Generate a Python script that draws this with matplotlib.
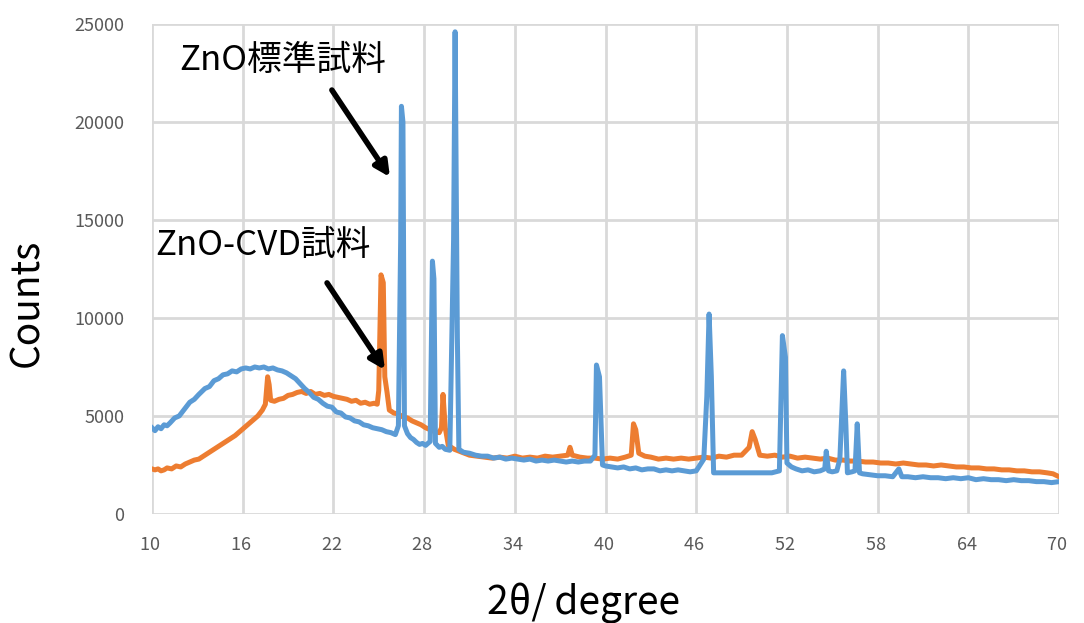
import matplotlib
matplotlib.use("Agg")
import matplotlib.pyplot as plt

plt.rcParams['font.family'] = ['Noto Sans CJK JP', 'DejaVu Sans']

# ZnO standard sample (blue)
std_x = [10.0, 10.2, 10.4, 10.6, 10.8, 11.0, 11.2, 11.5, 11.8, 12.1, 12.5, 12.8, 13.1, 13.5,
         13.8, 14.1, 14.4, 14.7, 15.0, 15.3, 15.6, 15.9, 16.2, 16.5, 16.8, 17.1, 17.4, 17.7,
         18.0, 18.3, 18.6, 18.9, 19.2, 19.5, 19.8, 20.1, 20.4, 20.7, 21.0, 21.3, 21.6, 21.9,
         22.2, 22.5, 22.8, 23.1, 23.4, 23.7, 24.0, 24.3, 24.6, 24.9, 25.2, 25.5, 25.8, 26.1,
         26.3, 26.45, 26.5, 26.6, 26.7, 26.9, 27.1, 27.3, 27.5, 27.7, 27.9, 28.1, 28.4, 28.55,
         28.65, 28.75, 29.0, 29.2, 29.4, 29.7, 29.95, 30.05, 30.2, 30.3, 30.6, 31.0, 31.4, 31.8,
         32.2, 32.6, 33.0, 33.4, 33.8, 34.2, 34.6, 35.0, 35.4, 35.8, 36.2, 36.6, 37.0, 37.4,
         37.8, 38.2, 38.6, 39.0, 39.3, 39.4, 39.6, 39.8, 40.0, 40.4, 40.8, 41.2, 41.6, 42.0,
         42.4, 42.8, 43.2, 43.6, 44.0, 44.4, 44.8, 45.2, 45.6, 46.0, 46.5, 46.7, 46.85, 47.0,
         47.15, 48.0, 49.0, 50.0, 51.0, 51.5, 51.7, 51.9, 52.0, 52.3, 52.6, 53.0, 53.4, 53.8,
         54.2, 54.5, 54.6, 54.75, 55.0, 55.3, 55.5, 55.75, 55.9, 56.0, 56.3, 56.5, 56.65, 56.8,
         57.0, 57.5, 58.0, 58.5, 59.0, 59.4, 59.6, 60.0, 60.5, 61.0, 61.5, 62.0, 62.5, 63.0,
         63.5, 64.0, 64.5, 65.0, 65.5, 66.0, 66.5, 67.0, 67.5, 68.0, 68.5, 69.0, 69.5, 70.0]
std_y = [4400, 4250, 4450, 4350, 4550, 4500, 4650, 4900, 5000, 5300, 5700, 5850, 6100, 6400,
         6500, 6800, 6900, 7100, 7150, 7300, 7250, 7400, 7450, 7400, 7500, 7450, 7500, 7400,
         7450, 7350, 7300, 7200, 7050, 6900, 6650, 6400, 6200, 5950, 5850, 5650, 5500, 5450,
         5200, 5150, 4950, 4900, 4750, 4700, 4550, 4500, 4400, 4350, 4300, 4200, 4150, 4050,
         4500, 14000, 20800, 20000, 4500, 4100, 3900, 3800, 3650, 3550, 3600, 3500, 3700, 12900,
         12000, 3600, 3400, 3450, 3300, 3250, 14000, 24600, 9000, 3300, 3150, 3100, 3000, 2950,
         2950, 2850, 2900, 2800, 2850, 2800, 2750, 2800, 2700, 2750, 2700, 2750, 2700, 2650,
         2700, 2650, 2700, 2700, 3000, 7600, 7000, 2500, 2450, 2400, 2350, 2400, 2300, 2350,
         2250, 2300, 2300, 2200, 2250, 2200, 2250, 2200, 2150, 2200, 2800, 6000, 10200, 7000,
         2100, 2100, 2100, 2100, 2100, 2200, 9100, 8000, 2600, 2400, 2300, 2200, 2250, 2150,
         2200, 2300, 3200, 2200, 2150, 2200, 2800, 7300, 4500, 2100, 2150, 2200, 4600, 2100,
         2050, 2000, 1950, 1950, 1900, 2300, 1900, 1900, 1850, 1900, 1850, 1850, 1800, 1850,
         1800, 1850, 1750, 1800, 1750, 1750, 1700, 1750, 1700, 1700, 1650, 1650, 1600, 1650]

# ZnO-CVD sample (orange)
cvd_x = [10.0, 10.2, 10.4, 10.6, 10.8, 11.0, 11.3, 11.6, 11.9, 12.2, 12.5, 12.8, 13.1, 13.4,
         13.7, 14.0, 14.3, 14.6, 14.9, 15.2, 15.5, 15.8, 16.1, 16.4, 16.7, 17.0, 17.3, 17.5,
         17.65, 17.75, 17.85, 18.1, 18.4, 18.7, 19.0, 19.3, 19.6, 19.9, 20.2, 20.5, 20.8, 21.1,
         21.4, 21.7, 22.0, 22.3, 22.6, 22.9, 23.2, 23.5, 23.8, 24.1, 24.4, 24.7, 24.9, 25.0,
         25.15, 25.3, 25.4, 25.55, 25.7, 26.0, 26.3, 26.6, 26.9, 27.2, 27.5, 27.8, 28.1, 28.4,
         28.7, 29.0, 29.15, 29.25, 29.4, 29.6, 30.0, 30.5, 31.0, 31.5, 32.0, 32.5, 33.0, 33.5,
         34.0, 34.5, 35.0, 35.5, 36.0, 36.5, 37.0, 37.5, 37.65, 37.8, 38.3, 38.8, 39.3, 39.8,
         40.3, 40.8, 41.3, 41.7, 41.85, 42.0, 42.2, 42.6, 43.0, 43.5, 44.0, 44.5, 45.0, 45.5,
         46.0, 46.5, 47.0, 47.5, 48.0, 48.5, 49.0, 49.5, 49.7, 49.9, 50.2, 50.7, 51.2, 51.7,
         52.2, 52.7, 53.2, 53.7, 54.2, 54.7, 55.2, 55.7, 56.2, 56.7, 57.2, 57.7, 58.2, 58.7,
         59.2, 59.7, 60.2, 60.7, 61.2, 61.7, 62.2, 62.7, 63.2, 63.7, 64.2, 64.7, 65.2, 65.7,
         66.2, 66.7, 67.2, 67.7, 68.2, 68.7, 69.2, 69.6, 70.0]
cvd_y = [2300, 2250, 2300, 2200, 2250, 2350, 2300, 2450, 2400, 2550, 2650, 2750, 2800, 2950,
         3100, 3250, 3400, 3550, 3700, 3850, 4000, 4200, 4400, 4600, 4800, 5000, 5300, 5600,
         7000, 6600, 5800, 5750, 5850, 5900, 6050, 6100, 6200, 6250, 6150, 6250, 6100, 6150,
         6050, 6100, 6000, 5950, 5900, 5850, 5750, 5800, 5650, 5700, 5600, 5650, 5600, 6300,
         12200, 11800, 7000, 6200, 5300, 5150, 5100, 4950, 4900, 4750, 4650, 4550, 4400, 4300,
         4200, 4150, 4400, 6100, 4400, 3500, 3300, 3150, 3000, 2950, 2900, 2850, 2900, 2850,
         2950, 2850, 2900, 2850, 2950, 2900, 2950, 3000, 3400, 3000, 2900, 2850, 2850, 2800,
         2850, 2800, 2900, 3000, 4600, 4300, 3100, 2950, 2900, 2800, 2850, 2800, 2850, 2800,
         2850, 2900, 2850, 2950, 2900, 3000, 3000, 3400, 4200, 3800, 3000, 2950, 3000, 2900,
         2950, 2850, 2900, 2850, 2800, 2850, 2750, 2750, 2700, 2700, 2650, 2650, 2600, 2600,
         2550, 2600, 2550, 2500, 2500, 2450, 2500, 2450, 2400, 2400, 2350, 2350, 2300, 2300,
         2250, 2250, 2200, 2200, 2150, 2150, 2100, 2050, 1900]

x_ticks = [10, 16, 22, 28, 34, 40, 46, 52, 58, 64, 70]
y_ticks = [0, 5000, 10000, 15000, 20000, 25000]

fig = plt.figure(figsize=(10.84, 6.23), dpi=100)
ax = fig.add_axes([0.1402, 0.175, 0.8368, 0.7865])

ax.plot(cvd_x, cvd_y, color='#ED7D31', lw=3.6, solid_joinstyle='round')
ax.plot(std_x, std_y, color='#5B9BD5', lw=3.6, solid_joinstyle='round')

ax.set_xlim(10, 70)
ax.set_ylim(0, 25000)
ax.set_xticks(x_ticks)
ax.set_yticks(y_ticks)
ax.set_xticklabels([f"{t}\u2009" for t in x_ticks])
ax.tick_params(length=0, labelsize=13, labelcolor='#595959')
ax.tick_params(axis='x', pad=16)
ax.tick_params(axis='y', pad=20)
ax.grid(True, color='#d9d9d9', lw=2)
ax.set_axisbelow(True)
for s in ax.spines.values():
    s.set_visible(False)

ax.set_ylabel("Counts", fontsize=28, va='center')
ax.yaxis.set_label_coords(-0.138, 0.43)
ax.set_xlabel("2θ/\u2009degree", fontsize=28, va='center')
ax.xaxis.set_label_coords(0.476, -0.182)

ax.text(18.67, 23160, "ZnO標準試料", fontsize=25, ha='center', va='center')
ax.text(17.34, 13720, "ZnO-CVD試料", fontsize=25, ha='center', va='center')

arrow = dict(arrowstyle='-|>', lw=4, color='black', mutation_scale=22, shrinkA=0, shrinkB=0)
ax.annotate('', xy=(25.74, 17190), xytext=(21.9, 21630), arrowprops=arrow)
ax.annotate('', xy=(25.41, 7350), xytext=(21.58, 11790), arrowprops=arrow)

fig.savefig("out.png", dpi=100)
